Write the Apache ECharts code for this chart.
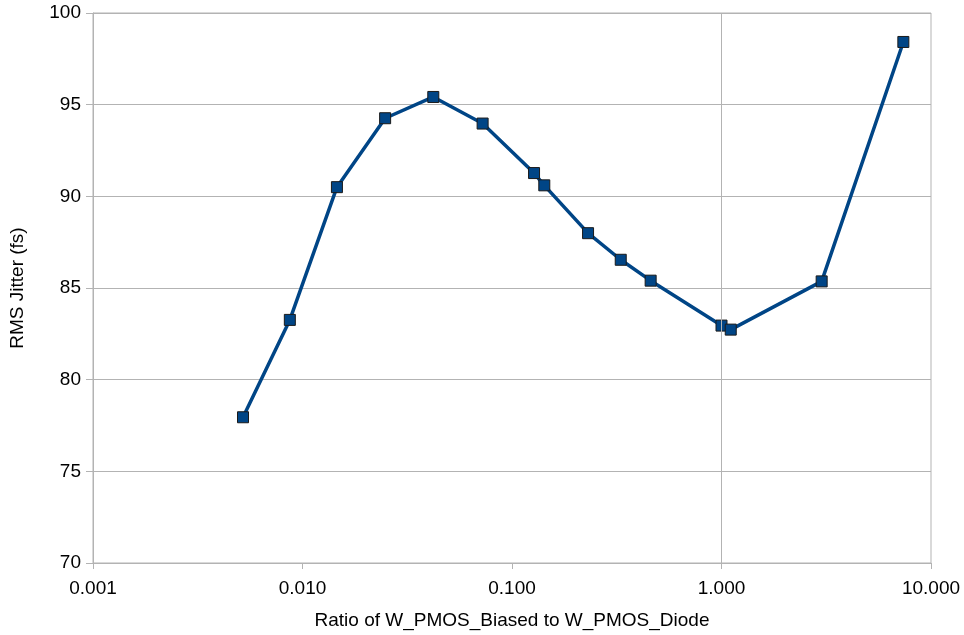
<!DOCTYPE html>
<html>
<head>
<meta charset="utf-8">
<script src="https://cdn.jsdelivr.net/npm/echarts@6/dist/echarts.min.js"></script>
<style>
  html, body { margin: 0; padding: 0; background: #ffffff; overflow: hidden; }
  #chart { width: 964px; height: 635px; }
</style>
</head>
<body>
<div id="chart"></div>
<script>
// Width ratio (biased / diode PMOS) and measured RMS jitter
const ratios = [0.0052, 0.0087, 0.0146, 0.0248, 0.0421, 0.0724, 0.1274, 0.1426,
                0.2307, 0.3304, 0.459, 1.0, 1.107, 3.007, 7.38];
const jitterFs = [77.95, 83.26, 90.5, 94.26, 95.42, 93.97, 91.27, 90.6,
                  87.99, 86.54, 85.4, 82.95, 82.73, 85.36, 98.42];

const xTitle = 'Ratio of W_PMOS_Biased to W_PMOS_Diode';
const yTitle = 'RMS Jitter (fs)';

const points = ratios.map((r, i) => [r, jitterFs[i]]);
const gridColor = '#b3b3b3';
const font = 'Liberation Sans, Arial, sans-serif';

const chart = echarts.init(document.getElementById('chart'));
chart.setOption({
  backgroundColor: '#ffffff',
  animation: false,
  grid: {
    left: 93, top: 13, width: 838, height: 552,
    show: true, borderColor: gridColor, borderWidth: 1
  },
  xAxis: {
    type: 'log',
    logBase: 10,
    min: 0.001,
    max: 10,
    name: xTitle,
    nameLocation: 'middle',
    nameGap: 48,
    nameTextStyle: { fontFamily: font, fontSize: 19, color: '#000' },
    axisLine: { show: true, lineStyle: { color: gridColor, width: 1 } },
    axisTick: { show: true, length: 6, lineStyle: { color: gridColor } },
    minorTick: { show: false },
    splitLine: { show: false },
    axisLabel: {
      margin: 16,
      fontFamily: font, fontSize: 19, color: '#000',
      formatter: v => Number(v).toFixed(3)
    }
  },
  yAxis: {
    type: 'value',
    min: 70,
    max: 100,
    interval: 5,
    name: yTitle,
    nameLocation: 'middle',
    nameGap: 66,
    nameRotate: 90,
    nameTextStyle: { fontFamily: font, fontSize: 19, color: '#000' },
    axisLine: { show: true, lineStyle: { color: gridColor, width: 1 } },
    axisTick: { show: true, length: 7, lineStyle: { color: gridColor } },
    splitLine: { show: true, lineStyle: { color: gridColor, width: 1 } },
    axisLabel: { margin: 12, fontFamily: font, fontSize: 19, color: '#000' }
  },
  series: [{
    type: 'line',
    data: points,
    symbol: 'rect',
    symbolSize: 11,
    lineStyle: { color: '#004586', width: 3.5 },
    itemStyle: { color: '#004586', borderColor: '#1a1a1a', borderWidth: 1 },
    markLine: {
      silent: true,
      symbol: ['none', 'none'],
      label: { show: false },
      lineStyle: { color: gridColor, width: 1, type: 'solid' },
      data: [{ xAxis: 1 }]
    },
    z: 3
  }]
});
</script>
</body>
</html>
